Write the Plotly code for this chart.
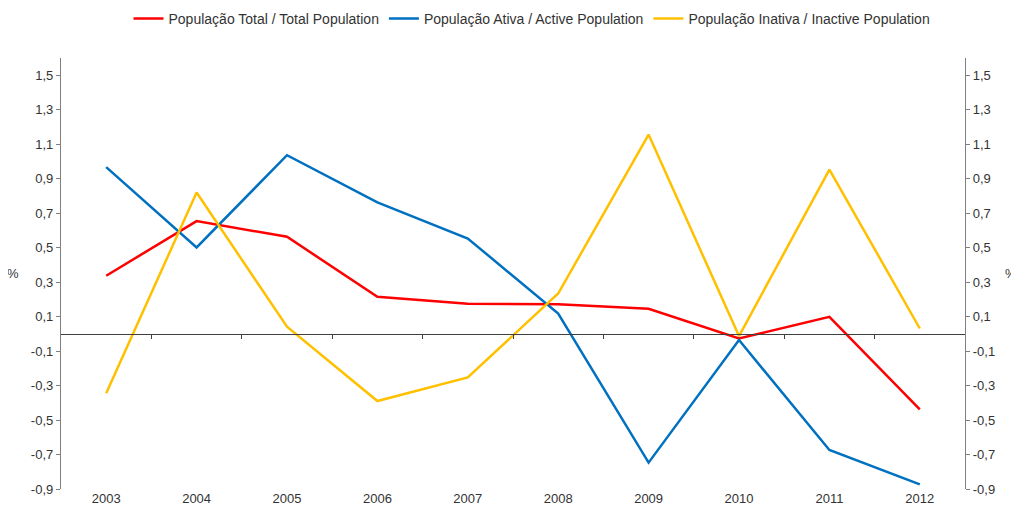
import plotly.graph_objects as go

years = ["2003", "2004", "2005", "2006", "2007", "2008", "2009", "2010", "2011", "2012"]
total_pop = [0.337, 0.654, 0.563, 0.215, 0.174, 0.171, 0.145, -0.027, 0.099, -0.438]
active_pop = [0.967, 0.501, 1.036, 0.762, 0.553, 0.118, -0.747, -0.036, -0.674, -0.873]
inactive_pop = [-0.345, 0.82, 0.041, -0.39, -0.253, 0.234, 1.156, -0.013, 0.953, 0.031]

series_names = [
    "População Total / Total Population",
    "População Ativa / Active Population",
    "População Inativa / Inactive Population",
]
series_colors = ["#FF0000", "#0070C0", "#FFC000"]

y_tick_values = [-0.9, -0.7, -0.5, -0.3, -0.1, 0.1, 0.3, 0.5, 0.7, 0.9, 1.1, 1.3, 1.5]
y_tick_labels = ["-0,9", "-0,7", "-0,5", "-0,3", "-0,1", "0,1", "0,3", "0,5", "0,7", "0,9", "1,1", "1,3", "1,5"]
boundary_ticks = [0.5, 1.5, 2.5, 3.5, 4.5, 5.5, 6.5, 7.5, 8.5]

Y_RANGE = [-0.9, 1.6]
FONT = "Liberation Sans, Arial, sans-serif"
TEXT = "#333333"
FS = 13

# the page body has an 8px margin, so the figure is drawn from (8, 8)
W, H = 1011, 501

fig = go.Figure()
for name, vals, col in zip(series_names, [total_pop, active_pop, inactive_pop], series_colors):
    fig.add_trace(go.Scatter(x=years, y=vals, mode="lines", name=name,
                             line=dict(color=col, width=2.5)))

# dummy traces for the right axis and the zero-line axis
fig.add_trace(go.Scatter(x=[years[0]], y=[0], yaxis="y2", mode="markers",
                         marker=dict(opacity=0), showlegend=False, hoverinfo="skip"))
fig.add_trace(go.Scatter(x=[0], y=[0], xaxis="x2", mode="markers",
                         marker=dict(opacity=0), showlegend=False, hoverinfo="skip"))

zero_pos = (0 - Y_RANGE[0]) / (Y_RANGE[1] - Y_RANGE[0])

fig.update_layout(
    width=W, height=H,
    margin=dict(l=53, r=54, t=50, b=20, autoexpand=False),
    paper_bgcolor="white", plot_bgcolor="white",
    font=dict(family=FONT, size=FS, color=TEXT),
    showlegend=True,
    legend=dict(orientation="h", x=524 / W, xref="container", xanchor="center",
                y=1 - 11 / H, yref="container", yanchor="middle",
                font=dict(size=14, color=TEXT), itemwidth=30, tracegroupgap=0),
    xaxis=dict(type="category", range=[-0.5, 9.5], showline=False, showgrid=False,
               zeroline=False, ticks="", automargin=False,
               tickfont=dict(size=FS, color=TEXT)),
    xaxis2=dict(overlaying="x", anchor="free", position=zero_pos, range=[-0.5, 9.5],
                showline=True, linecolor="#404040", linewidth=1.3, showgrid=False,
                zeroline=False, ticks="outside", ticklen=4, tickcolor="#404040",
                tickvals=boundary_ticks, showticklabels=False, automargin=False),
    yaxis=dict(range=Y_RANGE, tickvals=y_tick_values, ticktext=y_tick_labels,
               showline=True, linecolor="#808080", linewidth=1.3, showgrid=False,
               zeroline=False, ticks="outside", ticklen=4, tickcolor="#808080",
               automargin=False, tickfont=dict(size=FS, color=TEXT)),
    yaxis2=dict(range=Y_RANGE, overlaying="y", side="right", tickvals=y_tick_values,
                ticktext=y_tick_labels, showline=True, linecolor="#808080", linewidth=1.3,
                showgrid=False, zeroline=False, ticks="outside", ticklen=4,
                automargin=False, tickcolor="#808080", tickfont=dict(size=FS, color=TEXT)),
    annotations=[
        dict(text="%", xref="paper", yref="paper", x=(13.3 - 61) / 904, y=0.5,
             showarrow=False, xanchor="center", yanchor="middle",
             font=dict(size=FS, color=TEXT)),
        dict(text="%", xref="paper", yref="paper", x=(1011.5 - 61) / 904, y=0.5,
             showarrow=False, xanchor="center", yanchor="middle",
             font=dict(size=FS, color=TEXT)),
    ],
)

fig.write_html("out.html")
